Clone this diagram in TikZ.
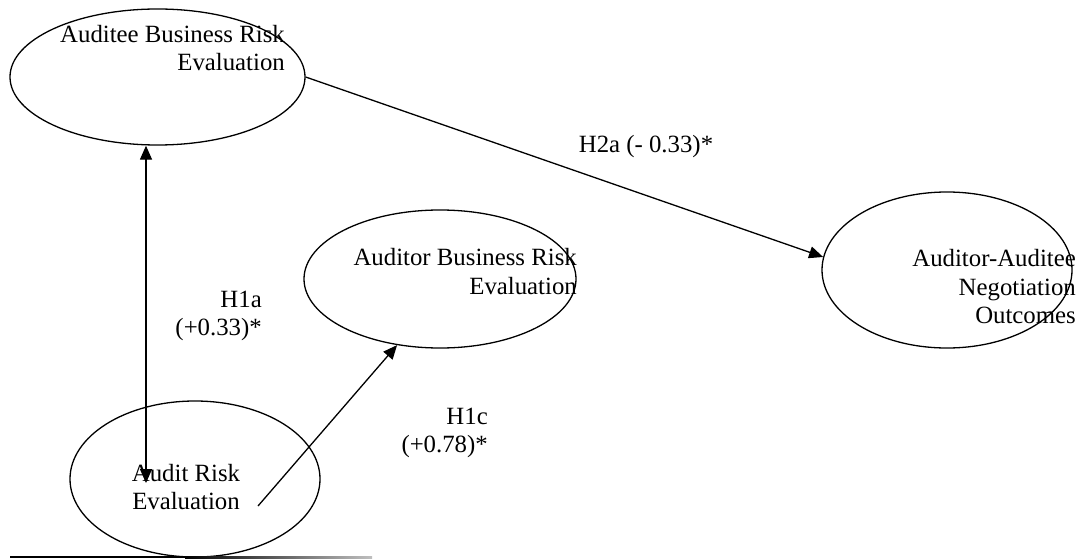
\documentclass[tikz,border=0pt]{standalone}
\usepackage{fontspec}
\setmainfont{Liberation Serif}
\usepackage{tikz}
\usetikzlibrary{shapes.geometric, arrows.meta, positioning}

\begin{document}
\begin{tikzpicture}[
    x=1pt, y=-1pt,
    construct/.style={ellipse, draw, line width=1.3pt, inner sep=0pt},
    lbl/.style={inner sep=0pt, font=\fontsize{24.8}{28.5}\selectfont},
    arrow/.style={-{Triangle[length=14pt, width=12pt]}, line width=1.3pt},
    biarrow/.style={{Triangle[length=14pt, width=12pt]}-{Triangle[length=14pt, width=12pt]}, line width=1.3pt}
]
    \useasboundingbox (0,0) rectangle (1083,559);

    % Auditee business risk
    \node[construct, minimum width=295pt, minimum height=136pt] (auditee) at (157.5,77) {};
    \node[lbl, align=right, anchor=east] (auditeeTxt) at (285,48) {Auditee Business Risk\\Evaluation};

    % Auditor business risk
    \node[construct, minimum width=272pt, minimum height=138pt] (auditor) at (440,279) {};
    \node[lbl, align=right, anchor=east] (auditorTxt) at (577,271.5) {Auditor Business Risk\\Evaluation};

    % Negotiation outcomes
    \node[construct, minimum width=250pt, minimum height=156pt] (negotiation) at (947,270) {};
    \node[lbl, align=right, anchor=east] (negotiationTxt) at (1076,287) {Auditor-Auditee\\Negotiation\\Outcomes};

    % Audit risk
    \node[construct, minimum width=250pt, minimum height=156pt] (auditrisk) at (195,479) {};
    \node[lbl, align=center] (auditriskTxt) at (186,487) {Audit Risk\\Evaluation};

    % Path labels
    \node[lbl] (h2a) at (646,147) {H2a (- 0.33)*};
    \node[lbl, align=right, anchor=east] (h1a) at (262,316) {H1a\\(+0.33)*};
    \node[lbl, align=right, anchor=east] (h1c) at (488,433) {H1c\\(+0.78)*};

    % Free ends inside the audit risk ellipse
    \coordinate (h1aEnd) at (146,483);
    \coordinate (h1cStart) at (258,506);

    % Arrows
    \draw[biarrow] (h1aEnd |- auditee.south) -- (h1aEnd);
    \draw[arrow] (h1cStart) -- (auditor.237);
    \draw[arrow] (auditee.east) -- (negotiation.174);

    % Rule at the bottom
    \draw[line width=2pt] (10,557) -- (185,557);
    \shade[left color=black, right color=black!25] (185,556) rectangle (372,558);
\end{tikzpicture}
\end{document}
